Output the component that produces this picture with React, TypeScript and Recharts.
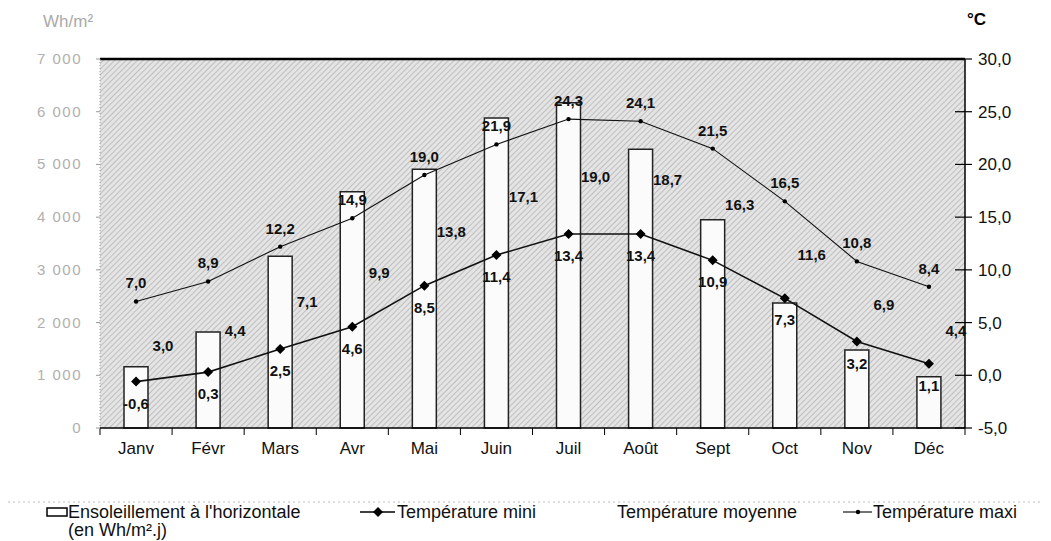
import React from 'react';
import { ComposedChart, Bar, Line, XAxis, YAxis, CartesianGrid, LabelList, ReferenceLine } from 'recharts';

const months = ['Janv', 'Févr', 'Mars', 'Avr', 'Mai', 'Juin', 'Juil', 'Août', 'Sept', 'Oct', 'Nov', 'Déc'];
const sunshine = [1160, 1820, 3260, 4480, 4910, 5880, 6170, 5290, 3950, 2370, 1480, 970];
const tempMin = [-0.6, 0.3, 2.5, 4.6, 8.5, 11.4, 13.4, 13.4, 10.9, 7.3, 3.2, 1.1];
const tempMoy = [3.0, 4.4, 7.1, 9.9, 13.8, 17.1, 19.0, 18.7, 16.3, 11.6, 6.9, 4.4];
const tempMax = [7.0, 8.9, 12.2, 14.9, 19.0, 21.9, 24.3, 24.1, 21.5, 16.5, 10.8, 8.4];
const leftTicks = [0, 1000, 2000, 3000, 4000, 5000, 6000, 7000];
const rightTicks = [-5, 0, 5, 10, 15, 20, 25, 30];

const data = months.map((m, i) => ({
  month: m,
  sun: sunshine[i],
  tmin: tempMin[i],
  tmoy: tempMoy[i],
  tmax: tempMax[i],
}));

const fmt = (v: number) => v.toFixed(1).replace('.', ',');
const fmtK = (v: number) => (v === 0 ? '0' : `${Math.floor(v / 1000)} ${String(v % 1000).padStart(3, '0')}`);

const LeftTick = (p: any) => (
  <g>
    <line x1={p.x - 4} x2={p.x} y1={p.y} y2={p.y} stroke="#999" />
    <text x={p.x - 18} y={p.y + 5} textAnchor="end" fontSize={15} fill="#b0b0b0" letterSpacing={1.5}>
      {fmtK(p.payload.value)}
    </text>
  </g>
);

const RightTick = (p: any) => (
  <g>
    <line x1={p.x - 10} x2={p.x + 7} y1={p.y} y2={p.y} stroke="#000" strokeWidth={1.2} />
    <text x={p.x + 13} y={p.y + 6} textAnchor="start" fontSize={17} fill="#111">
      {fmt(p.payload.value)}
    </text>
  </g>
);

const XTick = (p: any) => {
  const off = p.payload && p.payload.offset ? p.payload.offset : 36;
  const last = p.index === months.length - 1;
  return (
    <g>
      <line x1={p.x - off} x2={p.x - off} y1={p.y} y2={p.y + 7} stroke="#000" />
      {last && <line x1={p.x + off} x2={p.x + off} y1={p.y} y2={p.y + 7} stroke="#000" />}
      <text x={p.x} y={p.y + 26} textAnchor="middle" fontSize={17} fill="#111">
        {p.payload.value}
      </text>
    </g>
  );
};

const MinDot = (p: any) => {
  const { cx, cy } = p;
  if (cx == null || cy == null) return <g />;
  return <path d={`M${cx} ${cy - 5} L${cx + 5} ${cy} L${cx} ${cy + 5} L${cx - 5} ${cy} Z`} fill="#000" />;
};

const MaxDot = (p: any) => {
  const { cx, cy } = p;
  if (cx == null || cy == null) return <g />;
  return <circle cx={cx} cy={cy} r={2.2} fill="#000" />;
};

const minLabel = (p: any) => (
  <text x={p.x} y={p.y + 27} textAnchor="middle" fontSize={15} fontWeight="bold" fill="#111">
    {fmt(p.value)}
  </text>
);
const maxLabel = (p: any) => (
  <text x={p.x} y={p.y - 13} textAnchor="middle" fontSize={15} fontWeight="bold" fill="#111">
    {fmt(p.value)}
  </text>
);
const moyLabel = (p: any) => (
  <text x={p.x + 27} y={p.y + 7} textAnchor="middle" fontSize={15} fontWeight="bold" fill="#111">
    {fmt(p.value)}
  </text>
);

export default function App() {
  return (
    <div style={{ position: 'relative', width: 1035, height: 533, fontFamily: '"Liberation Sans", Arial, sans-serif' }}>
      <svg width={0} height={0} style={{ position: 'absolute' }}>
        <defs>
          <pattern id="hatch" width="4" height="4" patternUnits="userSpaceOnUse" patternTransform="rotate(45)">
            <rect width="4" height="4" fill="#e4e4e4" />
            <line x1="0" y1="0" x2="0" y2="4" stroke="#a6a6a6" strokeWidth="1.2" />
          </pattern>
        </defs>
      </svg>
      <ComposedChart width={1035} height={533} data={data} margin={{ top: 51, right: 18, bottom: 83, left: 32 }}>
        <CartesianGrid horizontal={false} vertical={false} fill="url(#hatch)" fillOpacity={1} />
        <XAxis
          dataKey="month"
          height={30}
          tickSize={0}
          tickMargin={0}
          tickLine={false}
          axisLine={{ stroke: '#000', strokeWidth: 1.5 }}
          tick={XTick}
          interval={0}
        />
        <YAxis
          yAxisId="left"
          orientation="left"
          width={60}
          domain={[0, 7000]}
          ticks={leftTicks}
          tickSize={0}
          tickMargin={0}
          tickLine={false}
          axisLine={{ stroke: '#999', strokeDasharray: '1 2' }}
          tick={LeftTick}
          interval={0}
        />
        <YAxis
          yAxisId="right"
          orientation="right"
          width={60}
          domain={[-5, 30]}
          ticks={rightTicks}
          tickSize={0}
          tickMargin={0}
          tickLine={false}
          axisLine={{ stroke: '#000', strokeWidth: 1.5 }}
          tick={RightTick}
          interval={0}
        />
        <ReferenceLine yAxisId="left" y={7000} stroke="#000" strokeWidth={2.5} />
        <Bar yAxisId="left" dataKey="sun" barSize={24} fill="#fbfbfb" stroke="#222" strokeWidth={1.5} isAnimationActive={false} />
        <Line yAxisId="right" dataKey="tmax" type="linear" stroke="#111" strokeWidth={1.1} dot={MaxDot} activeDot={false} isAnimationActive={false}>
          <LabelList dataKey="tmax" content={maxLabel} />
        </Line>
        <Line yAxisId="right" dataKey="tmin" type="linear" stroke="#111" strokeWidth={1.6} dot={MinDot} activeDot={false} isAnimationActive={false}>
          <LabelList dataKey="tmin" content={minLabel} />
        </Line>
        <Line yAxisId="right" dataKey="tmoy" type="linear" stroke="none" dot={false} activeDot={false} isAnimationActive={false}>
          <LabelList dataKey="tmoy" content={moyLabel} />
        </Line>
      </ComposedChart>
      <svg width={1035} height={533} style={{ position: 'absolute', left: 0, top: 0, pointerEvents: 'none' }}>
        <text x={35} y={19} fontSize={17} fill="#aaa">Wh/m²</text>
        <text x={959} y={17} fontSize={17} fontWeight="bold" fill="#000">°C</text>
        <line x1={0} x2={1035} y1={494} y2={494} stroke="#bbb" strokeDasharray="2 3" />
        <rect x={39} y={500} width={20} height={8} fill="#fff" stroke="#000" strokeWidth={1.5} />
        <text x={60} y={510} fontSize={18} fill="#111">Ensoleillement à l'horizontale</text>
        <text x={60} y={528} fontSize={18} fill="#111">(en Wh/m².j)</text>
        <line x1={352} x2={387} y1={504} y2={504} stroke="#000" strokeWidth={1.6} />
        <path d="M370 499 L375 504 L370 509 L365 504 Z" fill="#000" />
        <text x={389} y={510} fontSize={18} fill="#111">Température mini</text>
        <text x={609} y={510} fontSize={18} fill="#111">Température moyenne</text>
        <line x1={835} x2={864} y1={504} y2={504} stroke="#000" strokeWidth={1.1} />
        <circle cx={850} cy={504} r={2.2} fill="#000" />
        <text x={865} y={510} fontSize={18} fill="#111">Température maxi</text>
      </svg>
    </div>
  );
}
